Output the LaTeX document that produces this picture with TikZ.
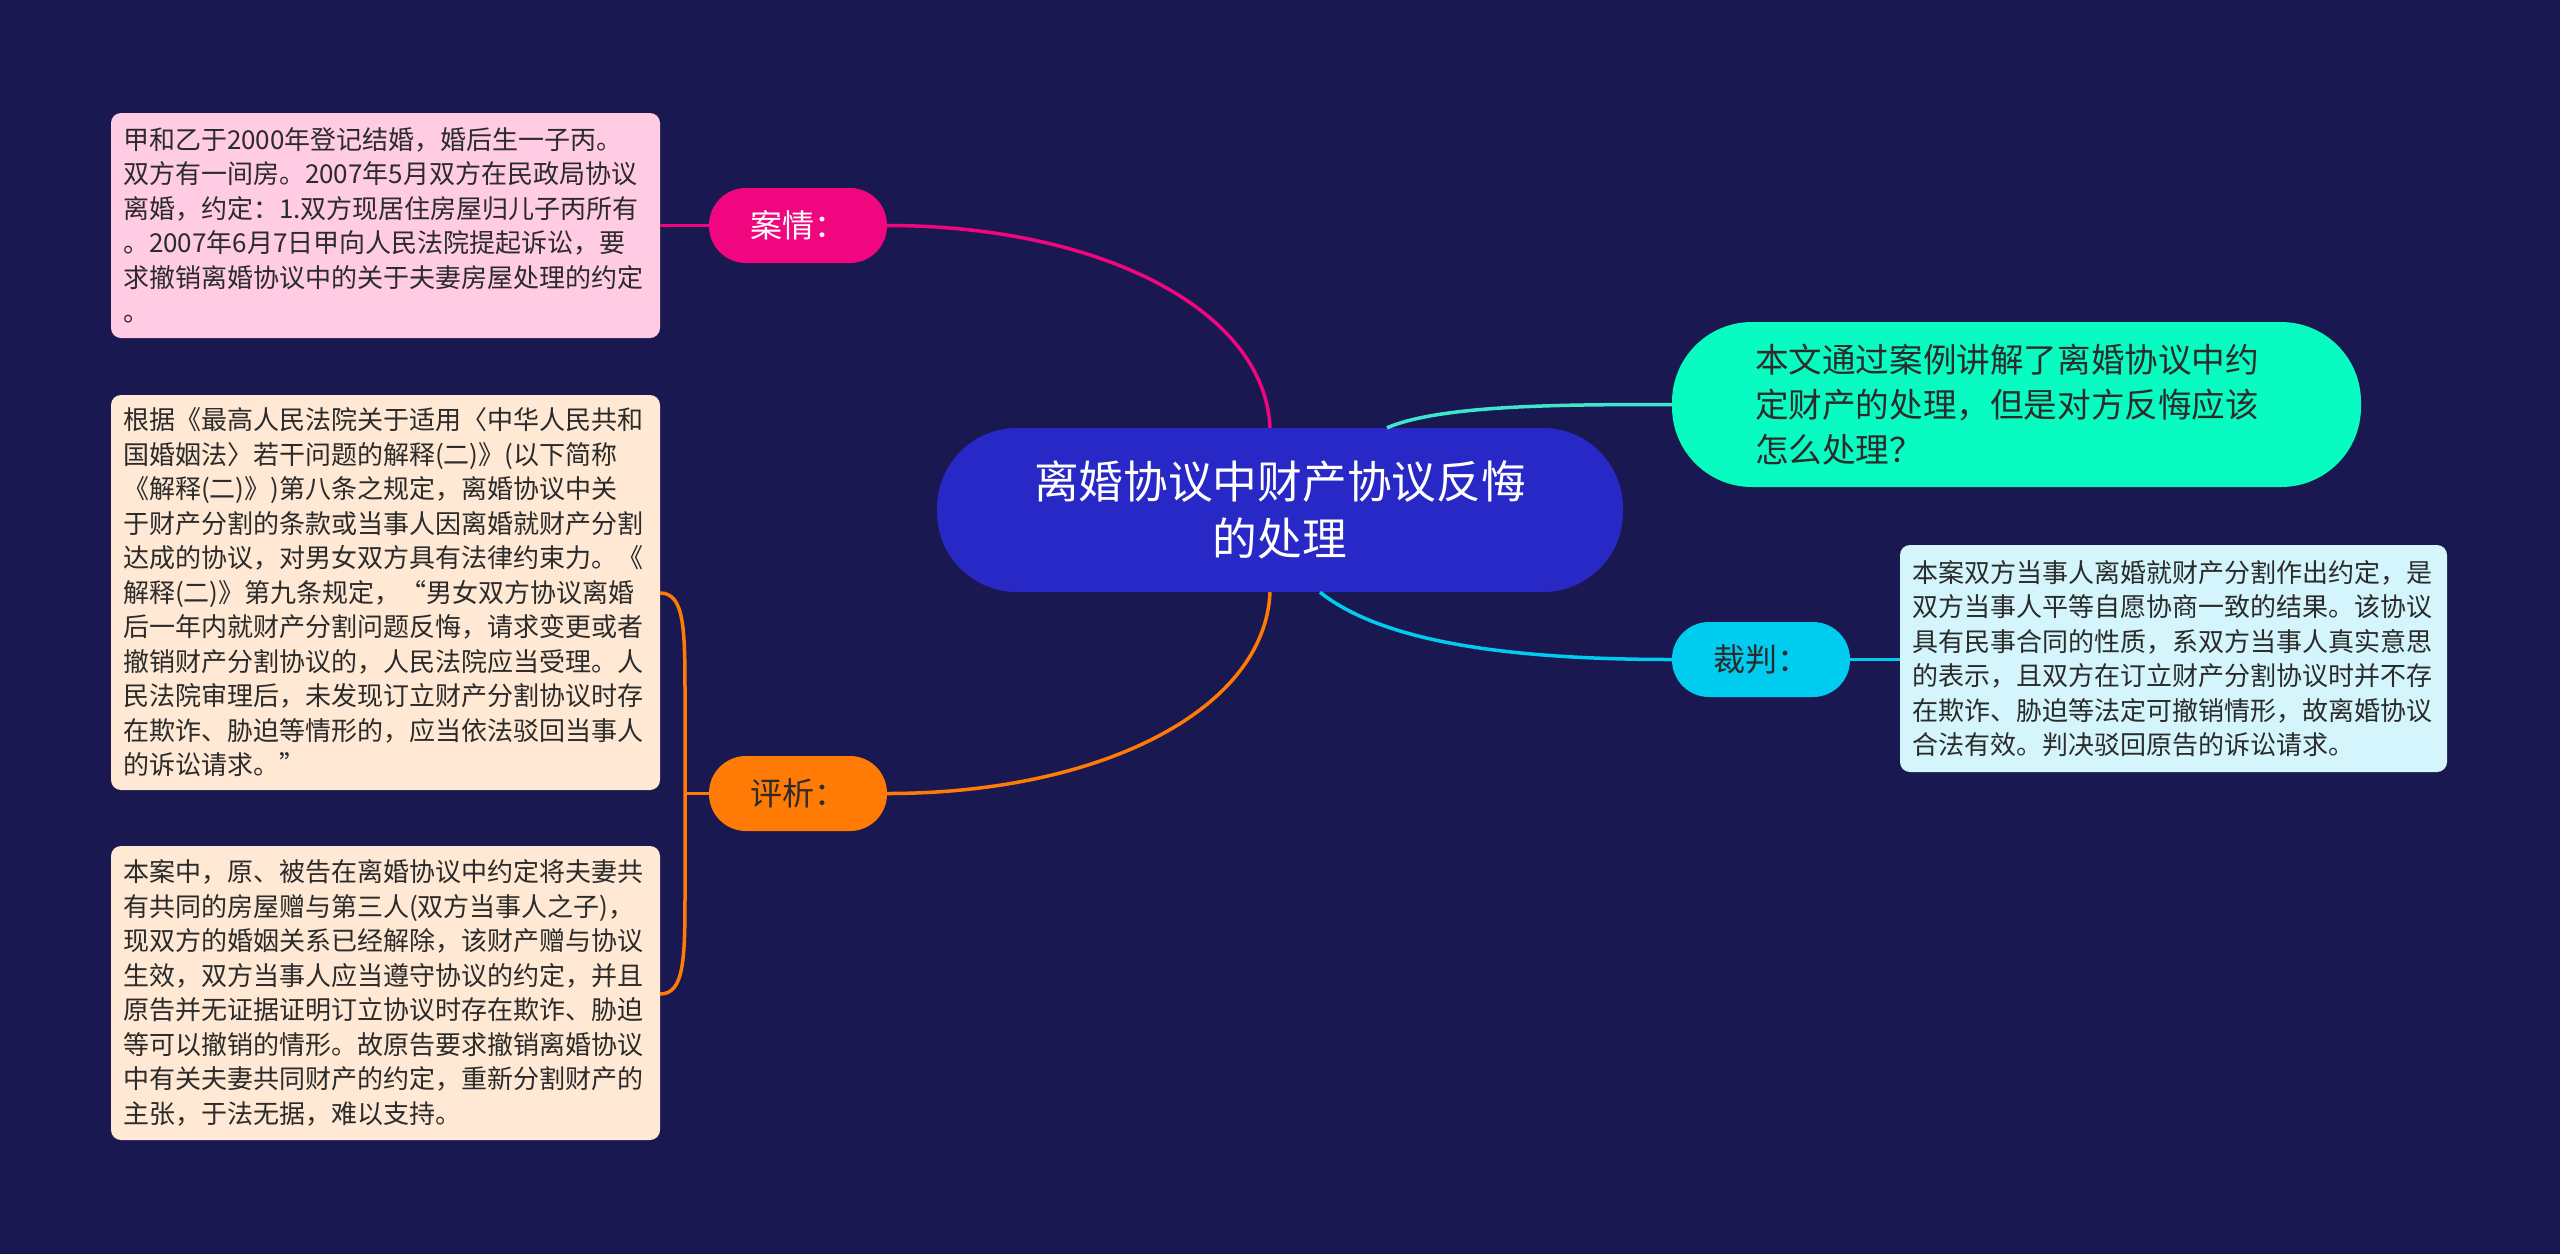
\documentclass[tikz,border=0pt]{standalone}
\usepackage{fontspec}
\setmainfont{Noto Sans CJK SC}
\definecolor{bgc}{HTML}{1A1850}
\definecolor{centerc}{HTML}{2828C6}
\definecolor{pinkc}{HTML}{F0077F}
\definecolor{orangec}{HTML}{FF7B05}
\definecolor{cyanc}{HTML}{00CCF0}
\definecolor{tealc}{HTML}{08FCC2}
\definecolor{tealline}{HTML}{3EE6CC}
\definecolor{pinkbox}{HTML}{FFCCE3}
\definecolor{peachbox}{HTML}{FFE8D4}
\definecolor{cyanbox}{HTML}{D4F5FC}
\definecolor{darktext}{HTML}{2B2B2B}
\begin{document}
\begin{tikzpicture}[x=1pt,y=-1pt,
  pill/.style={rounded corners=37pt, minimum width=178pt, minimum height=75pt, inner sep=0pt, font=\fontsize{32}{38}\selectfont},
  textbox/.style={rounded corners=10pt, text width=525pt, inner xsep=12pt, inner ysep=0pt, align=left, text=darktext, font=\fontsize{26}{34.5}\selectfont},
  link/.style={line width=3.5pt}
]
\fill[bgc] (0,0) rectangle (2560,1254);
\useasboundingbox (0,0) rectangle (2560,1254);

% central topic
\node[fill=centerc, rounded corners=80pt, minimum width=686pt, minimum height=164pt, inner sep=0pt, align=center, text=white, font=\fontsize{44.7}{57}\selectfont] (c) at (1280,510) {离婚协议中财产协议反悔\\的处理};

% main branches
\node[pill, fill=pinkc, text=white] (anqing) at (798,225.5) {案情：};
\node[pill, fill=orangec, text=darktext] (pingxi) at (798,793.5) {评析：};
\node[pill, fill=cyanc, text=darktext] (caipan) at (1761,659.5) {裁判：};
\node[fill=tealc, rounded corners=80pt, minimum width=689pt, minimum height=165pt, text width=523pt, inner xsep=83pt, inner ysep=0pt, align=left, text=darktext, font=\fontsize{33.6}{45}\selectfont] (summary) at (2016.5,404.5) {本文通过案例讲解了离婚协议中约\\定财产的处理，但是对方反悔应该\\怎么处理？};

% detail boxes
\node[textbox, fill=pinkbox, minimum height=225pt] (b1) at (385.5,225.5) {甲和乙于2000年登记结婚，婚后生一子丙。\\双方有一间房。2007年5月双方在民政局协议\\离婚，约定：1.双方现居住房屋归儿子丙所有\\。2007年6月7日甲向人民法院提起诉讼，要\\求撤销离婚协议中的关于夫妻房屋处理的约定\\。};
\node[textbox, fill=peachbox, minimum height=395pt] (b2) at (385.5,592.5) {根据《最高人民法院关于适用〈中华人民共和\\国婚姻法〉若干问题的解释(二)》(以下简称\\《解释(二)》)第八条之规定，离婚协议中关\\于财产分割的条款或当事人因离婚就财产分割\\达成的协议，对男女双方具有法律约束力。《\\解释(二)》第九条规定，“男女双方协议离婚\\后一年内就财产分割问题反悔，请求变更或者\\撤销财产分割协议的，人民法院应当受理。人\\民法院审理后，未发现订立财产分割协议时存\\在欺诈、胁迫等情形的，应当依法驳回当事人\\的诉讼请求。”};
\node[textbox, fill=peachbox, minimum height=294pt] (b3) at (385.5,993) {本案中，原、被告在离婚协议中约定将夫妻共\\有共同的房屋赠与第三人(双方当事人之子)，\\现双方的婚姻关系已经解除，该财产赠与协议\\生效，双方当事人应当遵守协议的约定，并且\\原告并无证据证明订立协议时存在欺诈、胁迫\\等可以撤销的情形。故原告要求撤销离婚协议\\中有关夫妻共同财产的约定，重新分割财产的\\主张，于法无据，难以支持。};
\node[textbox, fill=cyanbox, text width=523pt, minimum height=227pt] (b4) at (2173.5,658.5) {本案双方当事人离婚就财产分割作出约定，是\\双方当事人平等自愿协商一致的结果。该协议\\具有民事合同的性质，系双方当事人真实意思\\的表示，且双方在订立财产分割协议时并不存\\在欺诈、胁迫等法定可撤销情形，故离婚协议\\合法有效。判决驳回原告的诉讼请求。};

% connectors from central topic
\draw[link, pinkc] ([xshift=-10pt]c.north) .. controls (1265,310) and (1100,225.5) .. (anqing.east);
\draw[link, orangec] ([xshift=-10pt]c.south) .. controls (1265,710) and (1100,793.5) .. (pingxi.east);
\draw[link, tealline] ([xshift=107pt]c.north) .. controls (1440,405) and (1560,404.5) .. (summary.west);
\draw[link, cyanc] ([xshift=40pt]c.south) .. controls (1380,640) and (1500,659.5) .. (caipan.west);

% connectors to details
\draw[link, pinkc] (anqing.west) -- (b1.east |- anqing.west);
\draw[link, cyanc] (caipan.east) -- (b4.west |- caipan.east);
\coordinate (bj) at (685,793.5);
\coordinate (bt) at (660,593);
\coordinate (bb) at (660,994);
\draw[link, orangec] (pingxi.west) -- (bj);
\draw[link, orangec] (bt) .. controls (685,593) and (685,630) .. (685,700) -- (bj) -- (685,887) .. controls (685,957) and (685,994) .. (bb);
\end{tikzpicture}
\end{document}
